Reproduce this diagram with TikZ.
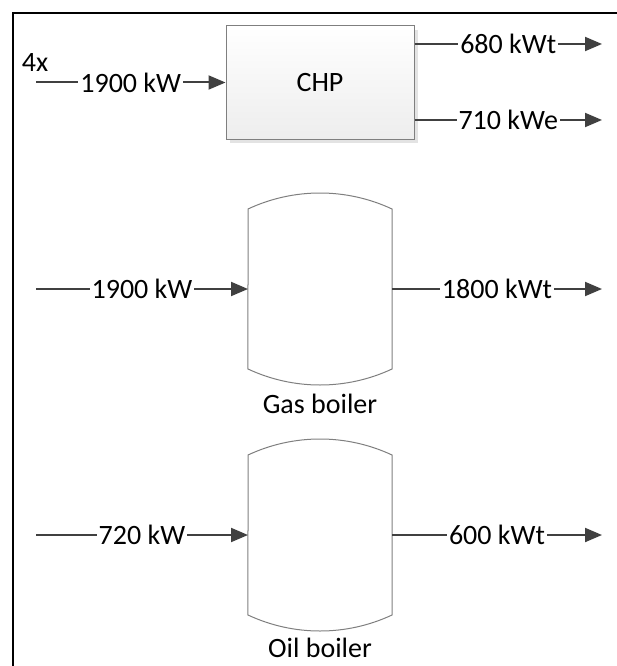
\documentclass[tikz,border=0pt]{standalone}
\usepackage{fontspec}
\setmainfont{Carlito}
\usetikzlibrary{arrows.meta}
\definecolor{flowgray}{HTML}{404040}
\definecolor{edgegray}{HTML}{7F7F7F}
\tikzset{
  flow/.style={draw=flowgray, line width=2pt, -{Triangle[length=17pt,width=14pt]}},
  amount/.style={fill=white, inner sep=2pt, text=black},
  chpbox/.style={draw=edgegray, line width=1pt, top color=white, bottom color=gray!14,
    minimum width=188pt, minimum height=113pt, inner sep=0pt},
  vessel/.style={draw=none, minimum width=144pt, minimum height=160pt, inner sep=0pt, outer sep=0pt},
  vesselline/.style={draw=edgegray, line width=1pt}
}

\begin{document}
\begin{tikzpicture}[x=1pt, y=-1pt, font=\fontsize{28}{34}\selectfont]
\useasboundingbox (0,0) rectangle (617,666);

%FRAME
\draw [black, line width=2.3pt] (13,666) -- (13,13) -- (617,13);

%CHP
\fill [gray!22] (230,30) rectangle (418,143);
\node [chpbox] (chp) at (320,82.5) {CHP};
\node (count) at (35,63) {4x};

\coordinate (chpin) at (36,82.5);
\coordinate (chpheat) at (602,44);
\coordinate (chppower) at (602,120);

\draw [flow] (chpin) -- node [amount] {1900 kW} (chp.west);
\draw [flow] (chp.east |- chpheat) -- node [amount] {680 kWt} (chpheat);
\draw [flow] (chp.east |- chppower) -- node [amount] {710 kWe} (chppower);

%GAS BOILER
\node [vessel] (gas) at (320,289) {};
\draw [vesselline] (gas.north west) arc [start angle=115.06, end angle=64.94, radius=170pt]
  -- (gas.south east) arc [start angle=-64.94, end angle=-115.06, radius=170pt] -- cycle;
\node (gasname) at (320,404) {Gas boiler};

\coordinate (gasin) at (36,289);
\coordinate (gasout) at (602,289);

\draw [flow] (gasin) -- node [amount] {1900 kW} (gas.west);
\draw [flow] (gas.east) -- node [amount] {1800 kWt} (gasout);

%OIL BOILER
\node [vessel] (oil) at (320,535) {};
\draw [vesselline] (oil.north west) arc [start angle=115.06, end angle=64.94, radius=170pt]
  -- (oil.south east) arc [start angle=-64.94, end angle=-115.06, radius=170pt] -- cycle;
\node (oilname) at (320,648) {Oil boiler};

\coordinate (oilin) at (36,535);
\coordinate (oilout) at (602,535);

\draw [flow] (oilin) -- node [amount] {720 kW} (oil.west);
\draw [flow] (oil.east) -- node [amount] {600 kWt} (oilout);

\end{tikzpicture}
\end{document}
